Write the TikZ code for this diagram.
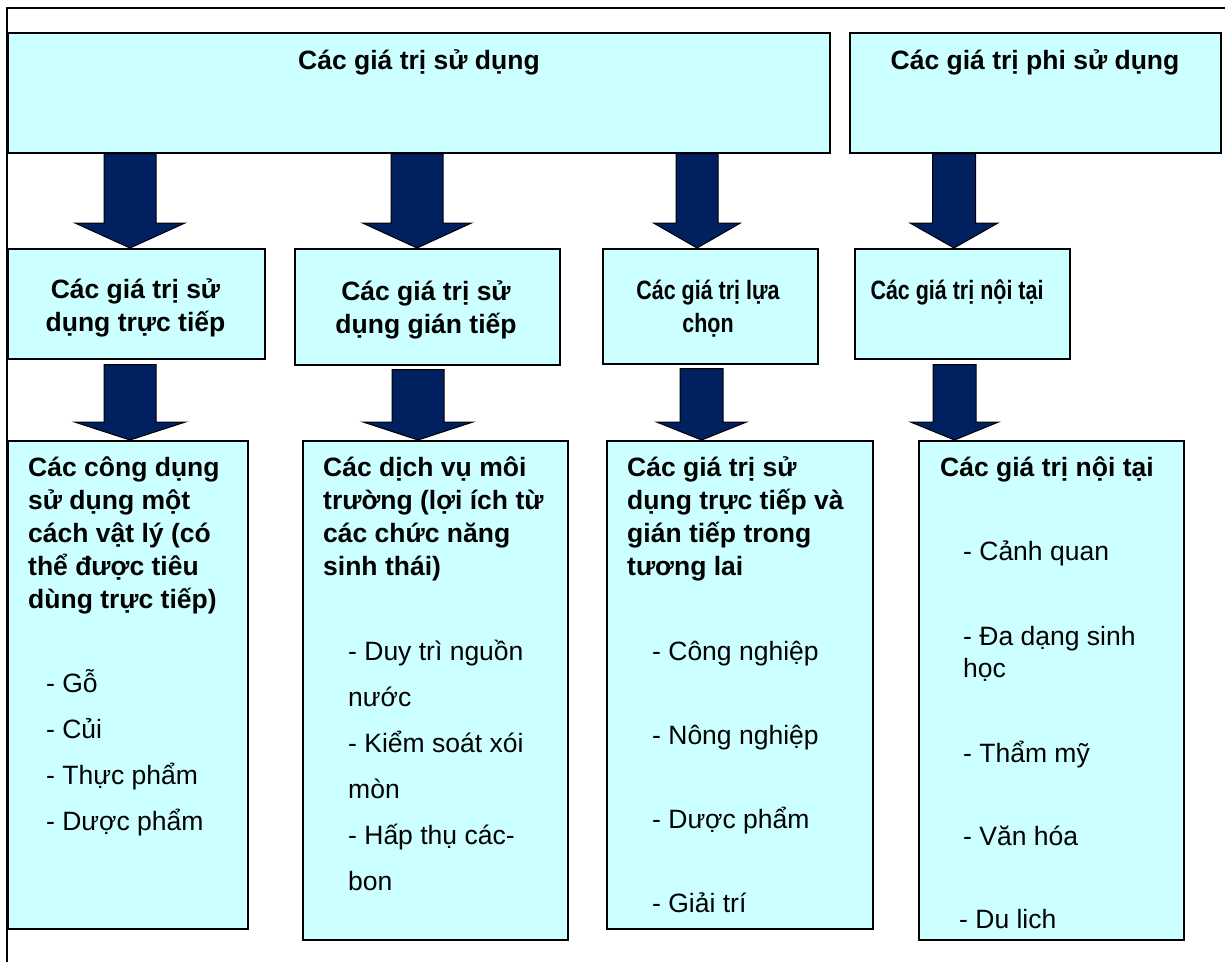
\documentclass[tikz,border=0pt]{standalone}
\usepackage{fontspec}
\setmainfont{Liberation Sans}
\usetikzlibrary{calc,backgrounds}
\definecolor{boxfill}{HTML}{CCFFFF}
\definecolor{navy}{RGB}{0,32,96}
\tikzset{
  box/.style={draw=black, line width=1.6pt, fill=boxfill, rectangle, inner sep=0pt, anchor=north west},
  hd/.style={font=\fontsize{26.5}{33}\selectfont\bfseries, inner sep=0pt, anchor=base},
  hdl/.style={font=\fontsize{26.5}{33}\selectfont\bfseries, inner sep=0pt, anchor=base west},
  it/.style={font=\fontsize{26.5}{33}\selectfont, inner sep=0pt, anchor=base west},
  blk/.style={fill=navy, draw=black, line width=1pt, line join=miter},
}
% #1 start, #2 tip, #3 shaft half width, #4 head half width, #5 head length
\newcommand\blockarrow[5]{%
  \path[blk] let \p1=(#1), \p2=(#2) in
    (\x1-#3pt,\y1) -- (\x1+#3pt,\y1) -- (\x1+#3pt,\y2+#5pt) -- (\x1+#4pt,\y2+#5pt)
    -- (\x2,\y2) -- (\x1-#4pt,\y2+#5pt) -- (\x1-#3pt,\y2+#5pt) -- cycle;}
\begin{document}
\begin{tikzpicture}[x=1pt,y=-1pt]
\useasboundingbox (0,0) rectangle (1225,962);
% frame
\draw[line width=2pt] (1225,7.5) -- (6.5,7.5) -- (6.5,962);

% boxes
\node[box, minimum width=822pt, minimum height=120pt] (use) at (7,32) {};
\node[box, minimum width=371pt, minimum height=120pt] (non) at (849,32) {};
\node[box, minimum width=257pt, minimum height=110pt] (dir) at (7,248) {};
\node[box, minimum width=265pt, minimum height=116pt] (ind) at (294,248) {};
\node[box, minimum width=215pt, minimum height=115pt] (opt) at (602,248) {};
\node[box, minimum width=215pt, minimum height=110pt] (int) at (854,248) {};
\node[box, minimum width=240pt, minimum height=488pt] (phys) at (7,440) {};
\node[box, minimum width=265pt, minimum height=499pt] (env) at (302,440) {};
\node[box, minimum width=266pt, minimum height=488pt] (fut) at (606,440) {};
\node[box, minimum width=265pt, minimum height=499pt] (intr) at (918,440) {};

% arrow axes
\coordinate (ax1) at (130,0);
\coordinate (ax2) at (417,0);
\coordinate (ax3) at (697,0);
\coordinate (ax4) at (954,0);
\coordinate (bx1) at (130,0);
\coordinate (bx2) at (418,0);
\coordinate (bx3) at (701.5,0);
\coordinate (bx4) at (954.5,0);

\begin{scope}[on background layer]
\blockarrow{use.south -| ax1}{dir.north -| ax1}{26}{55}{25}
\blockarrow{use.south -| ax2}{ind.north -| ax2}{26}{54.5}{25}
\blockarrow{use.south -| ax3}{opt.north -| ax3}{21}{43.5}{25}
\blockarrow{non.south -| ax4}{int.north -| ax4}{21.5}{44}{25}
\blockarrow{$(dir.south -| bx1)+(0,5)$}{phys.north -| bx1}{26}{55.5}{18}
\blockarrow{$(ind.south -| bx2)+(0,4)$}{env.north -| bx2}{26}{55}{18}
\blockarrow{$(opt.south -| bx3)+(0,4)$}{fut.north -| bx3}{21.5}{45}{18}
\blockarrow{$(int.south -| bx4)+(0,5)$}{intr.north -| bx4}{21.5}{44}{18}
\end{scope}

% top texts
\node[hd] (tuse) at (419,69) {Các giá trị sử dụng};
\node[hd] (tnon) at (1035,69) {Các giá trị phi sử dụng};

% middle texts
\node[hd] (m1a) at (135.5,298) {Các giá trị sử};
\node[hd] (m1b) at (135.5,331) {dụng trực tiếp};
\node[hd] (m2a) at (426,300) {Các giá trị sử};
\node[hd] (m2b) at (426,333) {dụng gián tiếp};
\node[hd] (m3a) at (708,299) {\scalebox{0.81}[1]{Các giá trị lựa}};
\node[hd] (m3b) at (708,332) {\scalebox{0.81}[1]{chọn}};
\node[hd] (m4a) at (957,299) {\scalebox{0.81}[1]{Các giá trị nội tại}};

% bottom box 1
\node[hdl] (p1) at (28,476) {Các công dụng};
\node[hdl] (p2) at (28,509) {sử dụng một};
\node[hdl] (p3) at (28,542) {cách vật lý (có};
\node[hdl] (p4) at (28,575) {thể được tiêu};
\node[hdl] (p5) at (28,608) {dùng trực tiếp)};
\node[it] (p6) at (46,692) {- Gỗ};
\node[it] (p7) at (46,738) {- Củi};
\node[it] (p8) at (46,784) {- Thực phẩm};
\node[it] (p9) at (46,830) {- Dược phẩm};

% bottom box 2
\node[hdl] (e1) at (323,476) {Các dịch vụ môi};
\node[hdl] (e2) at (323,509) {trường (lợi ích từ};
\node[hdl] (e3) at (323,542) {các chức năng};
\node[hdl] (e4) at (323,575) {sinh thái)};
\node[it] (e5) at (348,660) {- Duy trì nguồn};
\node[it] (e6) at (348,706) {nước};
\node[it] (e7) at (348,752) {- Kiểm soát xói};
\node[it] (e8) at (348,798) {mòn};
\node[it] (e9) at (348,844) {- Hấp thụ các-};
\node[it] (e10) at (348,890) {bon};

% bottom box 3
\node[hdl] (f1) at (627,476) {Các giá trị sử};
\node[hdl] (f2) at (627,509) {dụng trực tiếp và};
\node[hdl] (f3) at (627,542) {gián tiếp trong};
\node[hdl] (f4) at (627,575) {tương lai};
\node[it] (f5) at (652,660) {- Công nghiệp};
\node[it] (f6) at (652,744) {- Nông nghiệp};
\node[it] (f7) at (652,828) {- Dược phẩm};
\node[it] (f8) at (652,912) {- Giải trí};

% bottom box 4
\node[hdl] (i1) at (940,476) {Các giá trị nội tại};
\node[it] (i2) at (963,560) {- Cảnh quan};
\node[it] (i3) at (963,645) {- Đa dạng sinh};
\node[it] (i4) at (963,677) {học};
\node[it] (i5) at (963,762) {- Thẩm mỹ};
\node[it] (i6) at (963,845) {- Văn hóa};
\node[it] (i7) at (959,928) {- Du lich};
\end{tikzpicture}
\end{document}
